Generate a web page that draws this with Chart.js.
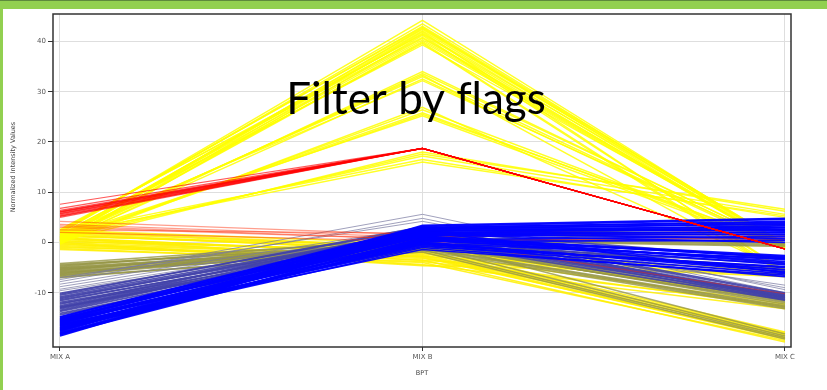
<!DOCTYPE html>
<html>
<head>
<meta charset="utf-8">
<script src="https://cdn.jsdelivr.net/npm/chart.js@4"></script>
<style>
  html, body { margin: 0; padding: 0; background: #ffffff; overflow: hidden; }
  #wrap { position: relative; width: 827px; height: 390px; }
  #chart { position: absolute; left: 0; top: 0; }
  .bar-top { position: absolute; left: 0; top: 0; width: 827px; height: 9px; background: #92d050; border-top: 1px solid #5e8a3c; box-sizing: border-box; }
  .bar-left { position: absolute; left: 0; top: 9px; width: 3px; height: 381px; background: #92d050; }
</style>
</head>
<body>
<div id="wrap">
  <canvas id="chart" width="827" height="390"></canvas>
  <div class="bar-top"></div>
  <div class="bar-left"></div>
</div>
<script>
// Axes
const mixLabels = ['MIX A', 'MIX B', 'MIX C'];
const yTicks = [-10, 0, 10, 20, 30, 40];

// Yellow flag: high peak at MIX B
const yellowPeakA = [1.8, 2.2, 0.5, 1.2, -0.4, 2.6, 1.0, 0.2, 1.6, 2.0, 0.8, -0.2, 1.4, 2.4, 0.6, 1.1, 1.9, 0.3];
const yellowPeakB = [43.5, 42.8, 42.1, 41.6, 41.2, 40.8, 40.3, 39.8, 39.3, 43.0, 42.4, 41.9, 40.6, 41.4, 42.6, 39.6, 44.2, 40.0];
const yellowPeakC = [-0.6, -0.9, -1.2, -0.4, -5.6, -0.8, -1.0, -6.2, -0.7, -0.3, -0.5, -5.9, -1.0, -1.3, -0.2, -6.5, -0.6, -1.1];

// Yellow flag: medium peaks at MIX B
const yellowMidA = [0.5, 1.0, 0.2, 1.5, 0.8, 0.0, 0.2, 0.6, 1.0, -0.2, 0.4];
const yellowMidB = [33.6, 33.0, 32.5, 32.2, 33.3, 34.0, 26.4, 25.8, 25.2, 26.9, 25.5];
const yellowMidC = [-0.5, -1.0, -1.3, -0.8, -6.0, -0.6, -0.6, -0.9, -1.2, -5.5, -0.4];

// Yellow flag: rising to MIX B, settling at MIX C
const yellowRiseA = [0.3, 1.2, 2.0, 0.8, 1.6];
const yellowRiseB = [18.0, 17.2, 16.5, 17.6, 16.0];
const yellowRiseC = [6.2, 5.6, 5.0, 6.6, 5.3];

// Yellow flag: low band
const yellowLowA = [1.5, 0.8, 0.0, -0.8, 2.0, 1.0, -1.2, 0.4, 1.8, -0.4, 2.2, 0.6, -0.6, 1.4, 0.0, -1.4, 1.2, 0.2, -1.0, 2.4, 0.9, -0.2];
const yellowLowB = [-1.5, -2.0, -2.8, -3.5, -1.0, -2.4, -4.0, -3.0, -1.8, -2.6, -0.8, -2.2, -3.2, -1.2, -4.4, -3.8, -0.6, -1.6, -2.8, -0.2, -3.6, -4.6];
const yellowLowC = [-18.0, -18.6, -19.2, -19.8, -17.8, -18.4, -19.5, -18.9, -18.2, -19.0, -11.5, -12.2, -12.8, -11.0, -13.2, -12.5, -5.2, -5.8, -6.4, -5.0, -6.8, -6.2];

// Red flag: peak at MIX B
const redA = [5.2, 5.5, 5.8, 6.1, 6.4, 5.0, 5.7, 6.0, 6.8, 7.6, 5.3, 6.2];
const redB = [18.7, 18.7, 18.7, 18.7, 18.7, 18.7, 18.7, 18.7, 18.7, 18.7, 18.7, 18.7];
const redC = [-1.3, -1.3, -1.3, -1.3, -1.3, -1.3, -1.3, -1.3, -1.3, -1.3, -1.3, -1.3];

// Red flag: flat profiles
const redFlatA = [4.2, 3.6, 3.0, 2.5, 2.0, 3.3];
const redFlatB = [1.5, 1.0, 0.6, 1.8, 0.2, 0.6];
const redFlatC = [1.5, 2.5, 0.5, 3.0, 1.0, -10.2];

// Olive flag
const oliveA = [-4.2, -4.6, -5.0, -5.3, -5.6, -5.9, -6.2, -6.5, -6.8, -4.8, -5.4, -6.0, -6.6, -5.1, -5.7, -6.3, -4.4, -7.0];
const oliveB = [0.8, 0.2, -0.4, -1.0, 0.5, -1.6, 0.0, -0.8, -1.9, 1.0, -0.2, -1.3, 0.4, -0.6, -1.1, 0.6, -0.3, -1.5];
const oliveC = [-0.4, -11.2, -12.0, -12.6, -0.8, -13.2, -11.6, -18.6, -19.2, -0.2, -12.3, -13.0, -18.2, -11.8, -12.8, -0.6, -11.4, -18.9];

// Grey flag
const greyA = [-7.4, -7.8, -8.3, -8.8, -9.3, -9.6, -7.0];
const greyB = [5.6, 4.8, 3.0, 2.5, 2.0, 1.5, 4.2];
const greyC = [-9.4, -10.0, -10.6, -11.0, -8.5, -11.4, -9.0];

// Slate flag
const slateA = [-10.1, -10.5, -11.0, -11.4, -11.9, -12.3, -12.8, -13.2, -13.7, -14.1, -10.3, -10.8, -11.6, -12.1, -12.6, -13.0, -13.5, -14.4, -11.2, -12.9];
const slateB = [2.8, 2.2, 1.6, 1.0, 0.4, 2.5, 1.9, 1.3, 0.7, 0.1, 3.1, 2.0, 1.4, -0.3, 2.6, 0.9, 1.7, 0.3, 2.3, 1.1];
const slateC = [-10.2, -10.6, -11.0, 3.5, -10.4, -11.3, 1.5, -10.8, -5.5, -11.5, -10.0, 2.5, -10.7, -4.2, -11.1, -10.3, 0.6, -10.9, -3.2, -11.4];

// Blue flag
const blueA = [-14.8, -15.4, -16.1, -15.7, -16.6, -17.0, -15.2, -16.9, -17.5, -18.1, -15.9, -16.4, -17.8, -18.4, -15.1, -16.0, -17.2, -17.6, -18.0, -15.6, -16.7, -14.9, -17.4, -18.3, -16.3, -15.5, -17.1, -16.5, -18.6, -15.8, -16.2, -17.3, -15.3, -18.2];
const blueB = [3.2, 2.6, 1.9, 1.2, 0.5, -0.2, 2.9, 2.2, 1.6, 0.9, 0.2, -0.6, 3.4, 2.4, 1.4, 0.7, -1.0, 2.8, 1.8, 1.1, -0.4, 3.0, 2.0, 0.4, -1.4, 2.5, 1.5, -0.8, 2.7, 0.0, 1.3, -0.1, 2.1, 0.8];
const blueC = [4.6, 3.8, 2.9, -3.0, 1.2, -5.4, 4.2, 3.3, 2.1, -3.8, 0.4, -6.2, 4.8, 2.6, 1.6, -4.4, -6.8, 3.6, 0.8, -2.6, -5.0, 4.0, 1.9, -3.4, -6.5, 2.4, 0.0, -4.8, 3.0, -5.8, -4.1, -3.2, -6.0, -2.8];

// Build one dataset per profile line across the three mixes
function profiles(a, b, c, color, width, order) {
  return a.map((_, i) => ({
    data: [{ x: 0, y: a[i] }, { x: 1, y: b[i] }, { x: 2, y: c[i] }],
    borderColor: color,
    borderWidth: width,
    order: order,
    pointRadius: 0,
    tension: 0,
    fill: false
  }));
}

const datasets = [].concat(
  profiles(yellowPeakA, yellowPeakB, yellowPeakC, 'rgba(255,255,0,0.85)', 1.4, 6),
  profiles(yellowMidA, yellowMidB, yellowMidC, 'rgba(255,255,0,0.85)', 1.4, 6),
  profiles(yellowRiseA, yellowRiseB, yellowRiseC, 'rgba(255,255,0,0.85)', 1.4, 6),
  profiles(yellowLowA, yellowLowB, yellowLowC, 'rgba(255,240,0,0.85)', 1.6, 6),
  profiles(oliveA, oliveB, oliveC, 'rgba(150,150,70,0.8)', 1.6, 5),
  profiles(greyA, greyB, greyC, 'rgba(120,120,160,0.7)', 1, 4),
  profiles(slateA, slateB, slateC, 'rgba(66,66,170,0.9)', 1.7, 3),
  profiles(redFlatA, redFlatB, redFlatC, 'rgba(255,40,0,0.45)', 1.2, 2.5),
  profiles(blueA, blueB, blueC, 'rgba(0,0,255,0.95)', 1.7, 2),
  profiles(redA, redB, redC, 'rgba(255,0,0,0.65)', 1.2, 1)
);

// Frame, axis titles and the overlay caption
const decorations = {
  id: 'decorations',
  afterDraw(chart) {
    const { ctx, chartArea: ca } = chart;
    ctx.save();
    ctx.strokeStyle = '#333';
    ctx.lineWidth = 1.5;
    ctx.strokeRect(ca.left, ca.top, ca.right - ca.left, ca.bottom - ca.top);

    ctx.fillStyle = '#444';
    ctx.font = '6.5px "DejaVu Sans"';
    ctx.textAlign = 'center';
    ctx.textBaseline = 'middle';
    ctx.fillText('BPT', (ca.left + ca.right) / 2, 373);

    ctx.translate(13, 167);
    ctx.rotate(-Math.PI / 2);
    ctx.fillText('Normalized Intensity Values', 0, 0);
    ctx.restore();

    ctx.save();
    ctx.fillStyle = '#000';
    ctx.font = '44px Lato';
    ctx.textRendering = 'optimizeSpeed';
    ctx.textAlign = 'center';
    ctx.textBaseline = 'alphabetic';
    ctx.fillText('Filter by flags', 416, 114);
    ctx.restore();
  }
};

const tickFont = { family: 'DejaVu Sans', size: 7 };

new Chart(document.getElementById('chart'), {
  type: 'line',
  data: { datasets },
  options: {
    responsive: false,
    animation: false,
    layout: { padding: { top: 14, right: 36, left: 0, bottom: 0 } },
    plugins: { legend: { display: false }, tooltip: { enabled: false } },
    scales: {
      x: {
        type: 'linear',
        min: -0.0193,
        max: 2.0166,
        afterBuildTicks: s => { s.ticks = [0, 1, 2].map(v => ({ value: v })); },
        afterFit: s => { s.height = 43; },
        ticks: { callback: v => mixLabels[v], font: tickFont, color: '#555', padding: 2, maxRotation: 0, autoSkip: false },
        grid: { color: '#dedede', lineWidth: 1, tickColor: '#333', tickLength: 4 },
        border: { display: false }
      },
      y: {
        min: -20.8,
        max: 45.46,
        afterBuildTicks: s => { s.ticks = yTicks.map(v => ({ value: v })); },
        afterFit: s => { s.width = 53; },
        ticks: { font: tickFont, color: '#555', padding: 2 },
        grid: { color: '#dedede', lineWidth: 1, tickColor: '#333', tickLength: 5 },
        border: { display: false }
      }
    }
  },
  plugins: [decorations]
});
</script>
</body>
</html>
